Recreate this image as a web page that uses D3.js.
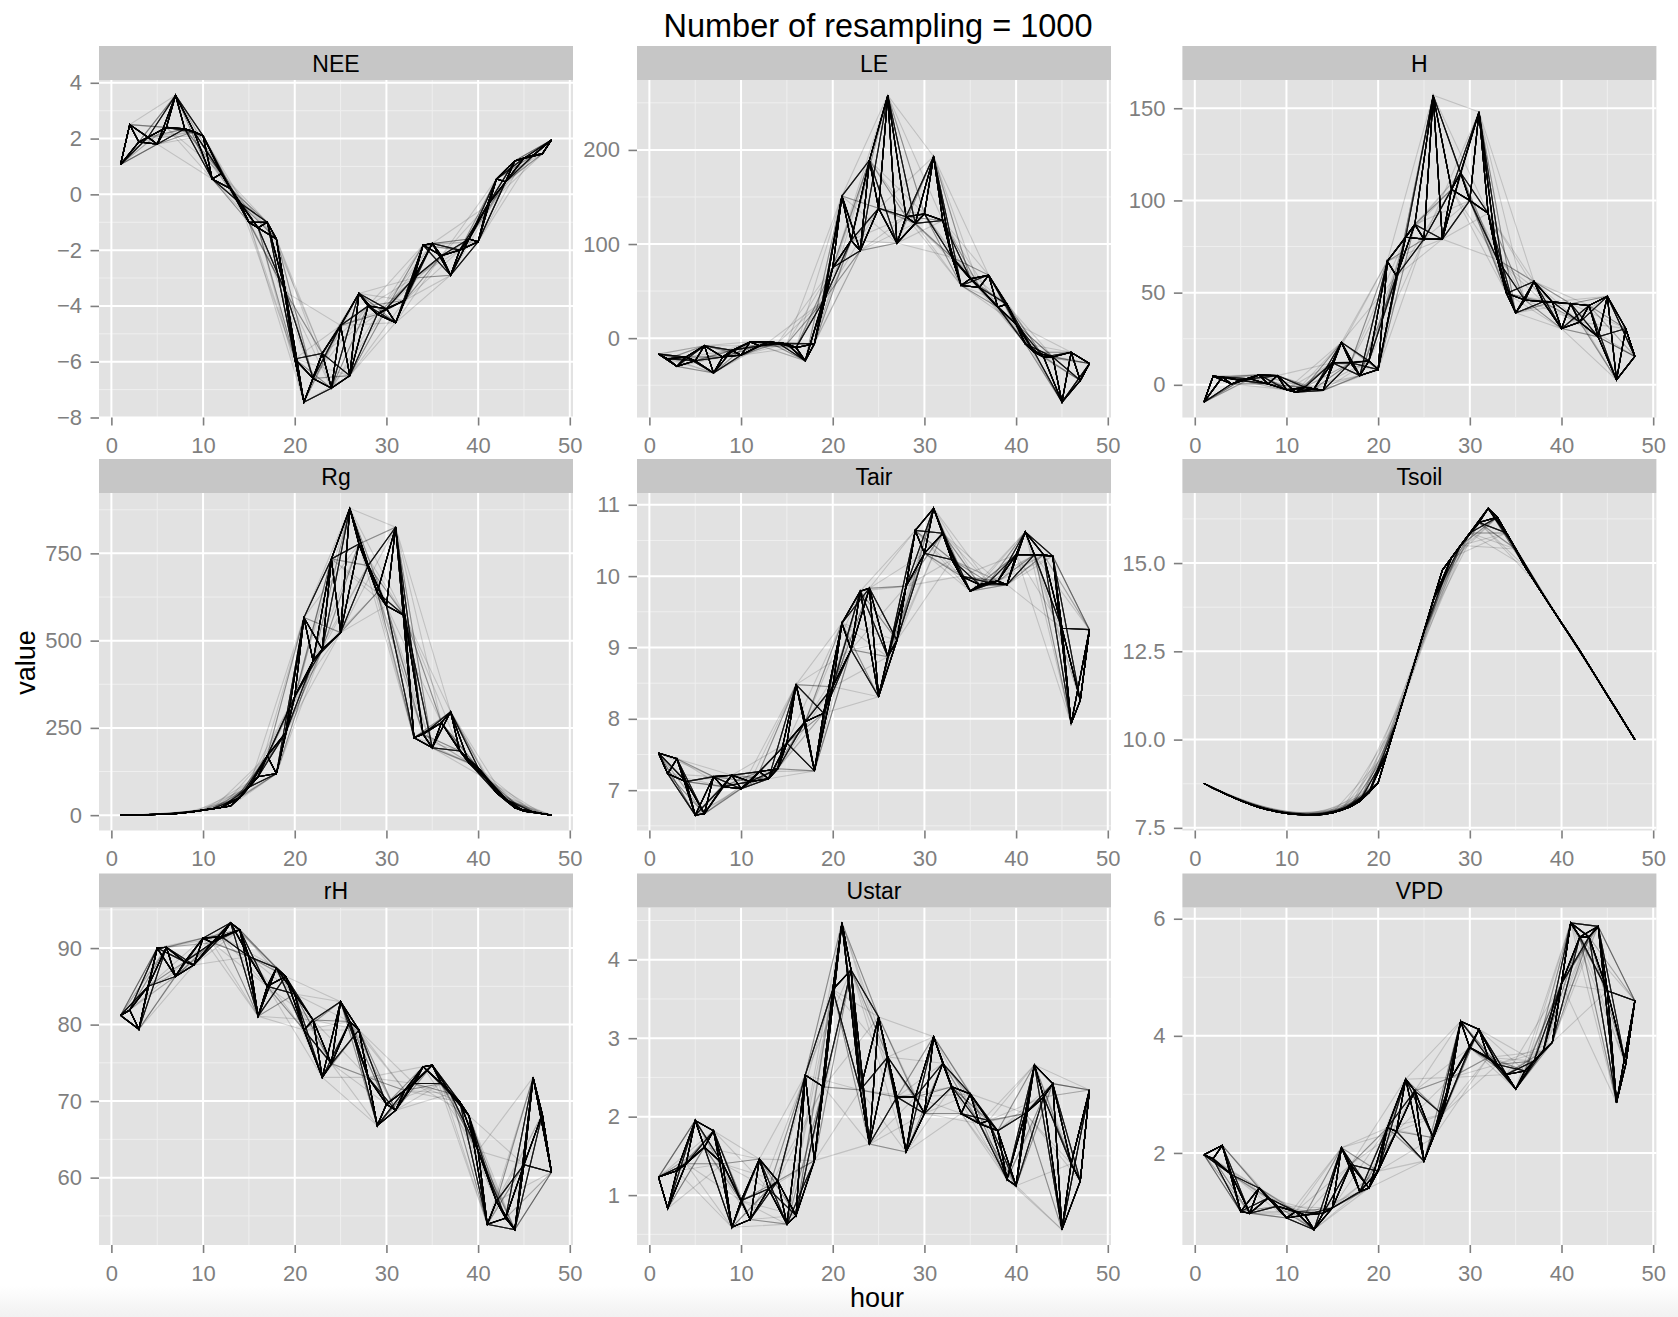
<!DOCTYPE html>
<html>
<head>
<meta charset="utf-8">
<script src="https://cdn.jsdelivr.net/npm/d3@7"></script>
<style>
body { margin: 0; background: #fff; }
svg { display: block; }
text { font-family: "Liberation Sans", Arial, Helvetica, sans-serif; }
</style>
</head>
<body>
<div id="chart"></div>
<script>
// hours on the x axis
const hours = [1,2,3,4,5,6,7,8,9,10,11,12,13,14,15,16,17,18,19,20,21,22,23,24,
               25,26,27,28,29,30,31,32,33,34,35,36,37,38,39,40,41,42,43,44,45,46,47,48];

// values per variable, one per hour
const NEE = [1.07,2.5,1.88,2.05,1.8,2.4,3.55,2.35,2.25,2.1,0.55,0.75,0.2,-0.3,-1.0,-1.2,-1.0,-1.6,-3.5,-5.9,
             -7.45,-6.6,-5.7,-6.95,-4.7,-6.5,-3.55,-4.0,-4.3,-4.1,-4.6,-3.8,-3.0,-1.82,-1.76,-2.2,-2.9,-2.0,-1.6,-1.7,
             -0.4,0.55,0.45,1.2,1.3,1.4,1.45,1.95];
const LE = [-17,-22,-30,-20,-24,-8,-37,-20,-13,-18,-4,-8,-4,-5,-6,-10,-24,-6,40,75,
            151,104,93,189,138,258,101,129,122,132,193,125,86,56,63,54,67,33,36,15,
            -6,-15,-20,-20,-68,-15,-45,-27];
const H = [-9.4,4.7,4.2,0.5,2.4,3.3,5.4,0.5,5,-2.7,-4,-1.3,-2.2,-3,12,23,12,5,13,8.3,
           67,59,80,87,79,157,79,106,115,100,148,93,68,49.6,39,46,56,45,45,30.5,
           44,34,43,26,48,2.7,30.5,15.4];
const Rg = [0,0.5,1,1.5,2,3,4,7,10,15,18,22,26,50,80,110,170,119,236,340,
            566,442,475,734,523,879,777,715,638,600,825,571,222,232,193,265,296,184,150,136,
            102,64,45,21,11,9,4,0];
const Tair = [7.52,7.23,7.44,7.12,6.65,6.67,7.19,7.05,7.21,7.02,7.12,7.26,7.16,7.3,7.66,8.48,7.96,7.27,8.08,8.45,
              9.34,8.97,9.79,9.83,8.31,8.87,9.1,9.86,10.64,10.32,10.95,10.6,10.23,10.0,9.79,9.88,9.91,9.93,9.88,10.3,
              10.62,10.3,10.3,10.28,9.27,7.93,8.26,9.25];
const Tsoil = [8.76,8.62,8.5,8.38,8.27,8.17,8.08,8.01,7.95,7.91,7.88,7.87,7.86,7.88,7.92,8.0,8.1,8.25,8.5,8.78,
               9.65,10.5,11.35,12.2,13.05,13.95,14.8,15.15,15.5,15.85,16.15,16.55,16.3,15.85,15.4,14.9,14.5,14.1,13.7,13.3,
               12.92,12.52,12.1,11.68,11.25,10.85,10.42,10.0];
const rH = [81.2,81.9,79.4,85,90,90.1,86.3,88.2,87.8,91.3,90.7,91.5,93.3,92.4,88.9,81.1,85,87.4,86.3,84,
            79.3,80.6,73.1,74.9,83,80.4,79.3,73.1,66.8,69.6,68.8,71.4,72.3,74.5,74.7,72.3,71,69.9,68.1,63.5,
            53.9,56.9,54.7,53.2,61.7,73.1,68.3,60.7];
const Ustar = [1.23,0.83,1.31,1.4,1.95,1.61,1.82,1.4,0.59,0.93,0.69,1.46,1.08,1.18,0.63,0.74,2.53,1.44,2.38,3.62,
               4.47,3.87,2.34,1.65,3.27,2.76,2.25,1.55,2.25,2.04,3.02,2.68,2.38,2.04,2.29,1.91,1.95,1.82,1.2,1.12,
               2.04,2.66,2.25,2.42,0.56,1.4,1.18,2.34];
const VPD = [1.97,1.9,2.13,1.63,1.0,0.97,1.4,1.23,1.09,0.89,1.0,0.94,0.69,0.97,1.06,2.09,1.8,1.34,1.4,1.69,
             2.43,2.37,3.26,3.06,1.86,2.26,2.66,3.29,4.25,3.8,4.11,3.63,3.51,3.34,3.09,3.4,3.57,3.74,3.89,4.89,
             5.93,5.69,5.69,5.87,4.77,2.86,3.51,4.6];

// tick labels
const xTicks = [0,10,20,30,40,50];
const ticksNEE = [-8,-6,-4,-2,0,2,4];
const ticksLE = [0,100,200];
const ticksH = [0,50,100,150];
const ticksRg = [0,250,500,750];
const ticksTair = [7,8,9,10,11];
const ticksTsoil = [7.5,10,12.5,15];
const ticksRH = [60,70,80,90];
const ticksUstar = [1,2,3,4];
const ticksVPD = [2,4,6];

// resampling masks: hour i kept when mask[(i+phase) % len] is "1" (first and last hour always kept)
const resampleMasks = ["1","1","10","10","110","110","1110","11110","11010","111010",
                       "100","1100","10100","110100","11100","1000","11000","10000","100000"];

const panels = [
  {name: "NEE", values: NEE, ticks: ticksNEE},
  {name: "LE", values: LE, ticks: ticksLE},
  {name: "H", values: H, ticks: ticksH},
  {name: "Rg", values: Rg, ticks: ticksRg},
  {name: "Tair", values: Tair, ticks: ticksTair},
  {name: "Tsoil", values: Tsoil, ticks: ticksTsoil, fmt: d3.format(".1f")},
  {name: "rH", values: rH, ticks: ticksRH},
  {name: "Ustar", values: Ustar, ticks: ticksUstar},
  {name: "VPD", values: VPD, ticks: ticksVPD}
];

// layout
const W = 1678, Hgt = 1317;
const colLeft = [99, 637, 1182.4], panelW = 474;
const rowTop = [80, 493, 907.5], panelH = 337.5, stripH = 34;
const tickCol = "#7f7f7f";

const svg = d3.select("#chart").append("svg")
  .attr("width", W)
  .attr("height", Hgt);

// faint grey band at the very bottom
const grad = svg.append("defs").append("linearGradient")
  .attr("id", "foot").attr("x1", 0).attr("x2", 0).attr("y1", 0).attr("y2", 1);
grad.append("stop").attr("offset", 0).attr("stop-color", "#ffffff");
grad.append("stop").attr("offset", 1).attr("stop-color", "#f1f1f1");
svg.append("rect").attr("x", 0).attr("y", 1286).attr("width", W).attr("height", Hgt - 1286)
  .attr("fill", "url(#foot)");

function expand(ext) {
  const pad = (ext[1] - ext[0]) * 0.05;
  return [ext[0] - pad, ext[1] + pad];
}

function minorBreaks(major, domain) {
  const step = major.length > 1 ? major[1] - major[0] : 1;
  const out = [];
  out.push(major[0] - step / 2);
  for (let i = 0; i < major.length - 1; i++) out.push((major[i] + major[i + 1]) / 2);
  out.push(major[major.length - 1] + step / 2);
  return out.filter(v => v > domain[0] && v < domain[1]);
}

function maxZeroRun(mask) {
  const s = mask + mask;
  let best = 0, cur = 0;
  for (const c of s) { if (c === "0") { cur++; best = Math.max(best, cur); } else cur = 0; }
  return Math.min(best, mask.length);
}

function lineAlpha(run) {
  if (run <= 1) return 0.5;
  if (run === 2) return 0.4;
  if (run === 3) return 0.22;
  return 0.15;
}

const resamples = [];
resampleMasks.forEach(m => {
  for (let p = 0; p < m.length; p++) resamples.push({mask: m, phase: p, run: maxZeroRun(m)});
});
resamples.sort((a, b) => b.run - a.run);

const x = d3.scaleLinear()
  .domain(expand(d3.extent(hours)));

panels.forEach((p, k) => {
  const col = k % 3, row = Math.floor(k / 3);
  const left = colLeft[col], top = rowTop[row];
  const g = svg.append("g").attr("transform", `translate(${left},${top})`);

  const xs = x.copy().range([0, panelW]);
  const yDomain = expand(d3.extent(p.values));
  const y = d3.scaleLinear().domain(yDomain).range([panelH, 0]);

  g.append("rect").attr("width", panelW).attr("height", panelH).attr("fill", "#e2e2e2");

  // minor grid
  g.selectAll(".xmin").data(minorBreaks(xTicks, xs.domain())).enter().append("line")
    .attr("x1", d => xs(d)).attr("x2", d => xs(d)).attr("y1", 0).attr("y2", panelH)
    .attr("stroke", "#efefef").attr("stroke-width", 1);
  g.selectAll(".ymin").data(minorBreaks(p.ticks, yDomain)).enter().append("line")
    .attr("x1", 0).attr("x2", panelW).attr("y1", d => y(d)).attr("y2", d => y(d))
    .attr("stroke", "#efefef").attr("stroke-width", 1);
  // major grid
  g.selectAll(".xmaj").data(xTicks).enter().append("line")
    .attr("x1", d => xs(d)).attr("x2", d => xs(d)).attr("y1", 0).attr("y2", panelH)
    .attr("stroke", "#ffffff").attr("stroke-width", 2);
  g.selectAll(".ymaj").data(p.ticks).enter().append("line")
    .attr("x1", 0).attr("x2", panelW).attr("y1", d => y(d)).attr("y2", d => y(d))
    .attr("stroke", "#ffffff").attr("stroke-width", 2);

  // resampled lines
  const pts = hours.map((h, i) => ({hour: h, value: p.values[i]}));
  const line = d3.line().x(d => xs(d.hour)).y(d => y(d.value));
  g.selectAll(".rs").data(resamples).enter().append("path")
    .attr("d", r => line(pts.filter((d, i) =>
      i === 0 || i === pts.length - 1 || r.mask[(i + r.phase) % r.mask.length] === "1")))
    .attr("fill", "none")
    .attr("stroke", "#000")
    .attr("stroke-width", 1.1)
    .attr("stroke-linejoin", "miter")
    .attr("stroke-opacity", r => lineAlpha(r.run));

  // strip
  g.append("rect").attr("x", 0).attr("y", -stripH).attr("width", panelW).attr("height", stripH)
    .attr("fill", "#c6c6c6");
  g.append("text").attr("x", panelW / 2).attr("y", -stripH + 25.5)
    .attr("text-anchor", "middle").attr("font-size", 23).attr("fill", "#000")
    .text(p.name);

  // axes
  const ya = g.append("g").call(d3.axisLeft(y).tickValues(p.ticks).tickSize(8.5).tickPadding(8.5)
    .tickFormat(p.fmt || d3.format("")));
  const xa = g.append("g").attr("transform", `translate(0,${panelH})`)
    .call(d3.axisBottom(xs).tickValues(xTicks).tickSize(8).tickPadding(12));
  [ya, xa].forEach(a => {
    a.select(".domain").remove();
    a.selectAll("line").attr("stroke", tickCol).attr("stroke-width", 1.6);
    a.selectAll("text").attr("fill", tickCol).attr("font-size", 22)
      .style("font-family", "'Liberation Sans', Arial, Helvetica, sans-serif");
  });
});

// titles
svg.append("text").attr("x", 878).attr("y", 37).attr("text-anchor", "middle")
  .attr("font-size", 32.5).attr("fill", "#000").text("Number of resampling = 1000");
svg.append("text").attr("x", 877).attr("y", 1307).attr("text-anchor", "middle")
  .attr("font-size", 27).attr("fill", "#000").text("hour");
svg.append("text").attr("transform", "translate(35,662.5) rotate(-90)").attr("text-anchor", "middle")
  .attr("font-size", 27).attr("fill", "#000").text("value");
</script>
</body>
</html>
